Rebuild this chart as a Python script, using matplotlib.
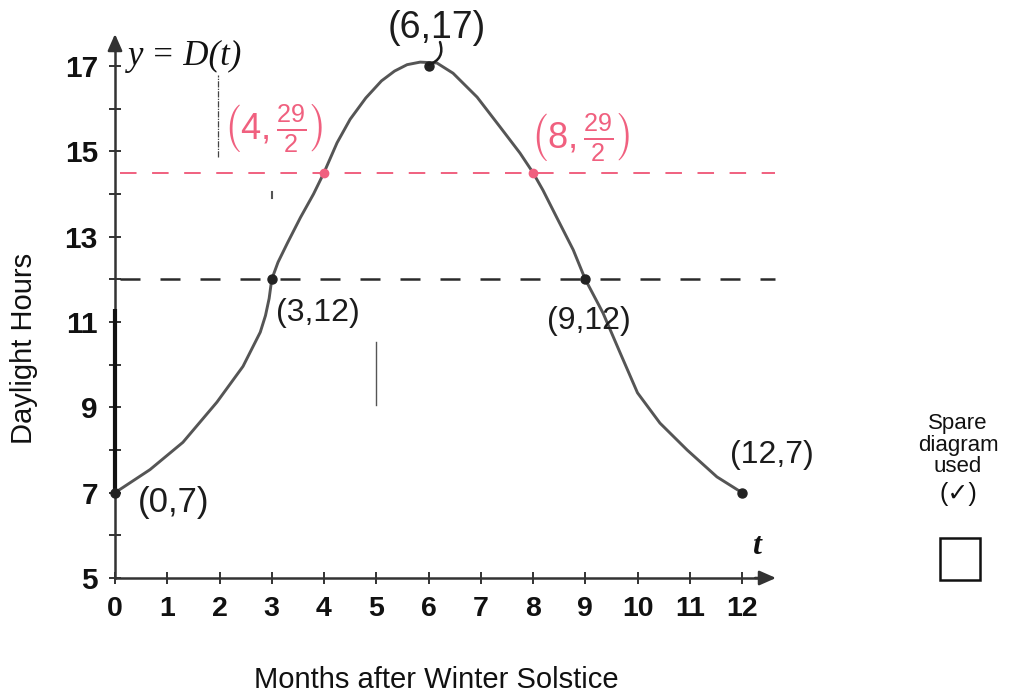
import matplotlib
matplotlib.use("Agg")
import matplotlib.pyplot as plt
from matplotlib.patches import Rectangle

plt.rcParams["font.family"] = ["Liberation Sans", "DejaVu Sans"]
plt.rcParams["mathtext.fontset"] = "custom"
plt.rcParams["mathtext.rm"] = "Liberation Sans"
plt.rcParams["mathtext.it"] = "Liberation Sans:italic"

# axis values
months = list(range(13))
hour_ticks = [5, 7, 9, 11, 13, 15, 17]
hour_minor = [6, 8, 10, 12, 14, 16]

# hand-drawn daylight curve D(t)
curve_t = [0, 0.15, 0.67, 1.3, 1.95, 2.45, 2.78, 2.88, 2.95, 3.0, 3.12, 3.3,
           3.55, 3.8, 4.0, 4.25, 4.5, 4.8, 5.1, 5.35, 5.59, 5.84, 6.0, 6.16,
           6.47, 6.93, 7.37, 7.75, 8.0, 8.19, 8.45, 8.77, 9.0, 9.34, 9.67,
           10.0, 10.43, 10.95, 11.52, 12.0]
curve_h = [7.0, 7.12, 7.54, 8.18, 9.12, 9.96, 10.76, 11.15, 11.55, 12.0, 12.4,
           12.85, 13.45, 14.0, 14.5, 15.2, 15.75, 16.25, 16.65, 16.88, 17.03,
           17.09, 17.08, 17.07, 16.83, 16.27, 15.57, 14.96, 14.5, 14.09, 13.46,
           12.69, 12.0, 11.21, 10.27, 9.34, 8.63, 8.0, 7.37, 7.0]

# marked points
key_t = [0, 3, 6, 9, 12]
key_h = [7, 12, 17, 12, 7]
key_text = ["(0,7)", "(3,12)", "(6,17)", "(9,12)", "(12,7)"]
half_t = [4, 8]
half_h = [14.5, 14.5]
half_text = [r"$\left(4,\frac{29}{2}\right)$", r"$\left(8,\frac{29}{2}\right)$"]
mid_level = 12
half_level = 14.5

ink = "#1c1c1c"
axis_col = "#333333"
pink = "#f0607f"

fig = plt.figure(figsize=(10.1, 6.94), dpi=100)
ax = fig.add_axes([115 / 1010, 116 / 694, 661 / 1010, 544 / 694])
x_end = 661 / 52.25
y_end = 5 + 544 / 42.67
ax.set_xlim(0, x_end)
ax.set_ylim(5, y_end)
for s in ax.spines.values():
    s.set_visible(False)

# axes lines with arrow heads
ax.plot([0, x_end - 0.3], [5, 5], color=axis_col, lw=1.8, clip_on=False)
ax.plot([0, 0], [5, y_end - 0.3], color=axis_col, lw=1.8, clip_on=False)
ax.plot([0, 0], [7, 11.3], color="#111111", lw=3.0, solid_capstyle="butt",
        clip_on=False)
head = dict(arrowstyle="-|>,head_length=0.5,head_width=0.22", lw=1.8,
            color=axis_col, shrinkA=0, shrinkB=0, mutation_scale=20)
ax.annotate("", xy=(x_end, 5), xytext=(x_end - 0.4, 5), arrowprops=head,
            annotation_clip=False)
ax.annotate("", xy=(0, y_end), xytext=(0, y_end - 0.4), arrowprops=head,
            annotation_clip=False)

ax.set_xticks(months)
ax.set_yticks(hour_ticks)
ax.set_yticks(hour_minor, minor=True)
ax.tick_params(axis="both", which="both", direction="inout", length=8.6,
               width=1.4, color=axis_col)
ax.tick_params(axis="x", pad=9, labelsize=20.5)
ax.tick_params(axis="y", pad=8, labelsize=21.5)
for lab in ax.get_xticklabels() + ax.get_yticklabels():
    lab.set_fontweight("bold")
    lab.set_color("#111111")

# reference levels
ax.plot([0.1, 12.63], [mid_level, mid_level], color="#2a2a2a", lw=1.8,
        ls=(0, (8, 8)), clip_on=False)
ax.plot([0.1, 12.63], [half_level, half_level], color=pink, lw=1.4,
        ls=(0, (8.5, 8)), clip_on=False)

# curve and points
ax.plot(curve_t, curve_h, color="#555555", lw=2.1, solid_joinstyle="round",
        solid_capstyle="round", clip_on=False)
ax.plot(key_t, key_h, "o", color="#222222", ms=6.5, clip_on=False)
ax.plot(half_t, half_h, "o", color=pink, ms=6, clip_on=False)

# stray pen marks
ax.plot([1.97, 1.97], [14.87, 16.79], color="#444444", lw=0.9,
        ls=(0, (5, 1, 1, 1)))
ax.plot([5.0, 5.0], [9.05, 10.53], color="#555555", lw=1.0)
ax.plot([3.0, 3.0], [13.9, 14.05], color="#555555", lw=1.5)

# hand-written labels
offsets = [(1.13, -0.22), (0.89, -0.79), (0.16, 0.89), (0.07, -0.98),
           (0.57, 0.88)]
sizes = [25, 23, 27, 23, 23]
for t, h, txt, (dx, dy), fs in zip(key_t, key_h, key_text, offsets, sizes):
    ax.text(t + dx, h + dy, txt, fontsize=fs, color=ink, ha="center",
            va="center")
ax.annotate("", xy=(6.0, 17.03), xytext=(6.22, 17.56),
            arrowprops=dict(arrowstyle="-", color=ink, lw=1.8,
                            connectionstyle="arc3,rad=-0.5", shrinkA=0,
                            shrinkB=0))
half_off = [(-0.98, 1.05), (0.9, 0.84)]
for t, h, txt, (dx, dy) in zip(half_t, half_h, half_text, half_off):
    ax.text(t + dx, h + dy, txt, fontsize=26, color=pink, ha="center",
            va="center")

# printed function and variable labels
ax.text(0.25, 17.23, "y = D(t)", fontsize=25, family="Liberation Serif",
        style="italic", color="#111111", ha="left", va="center")
ax.text(12.27, 5.73, "t", fontsize=23, family="Liberation Serif",
        style="italic", weight="bold", color="#111111", ha="center",
        va="center")

fig.text(24 / 1010, 1 - 348 / 694, "Daylight Hours", rotation=90,
         ha="center", va="center", fontsize=21, color="#111111")
fig.text(436 / 1010, 1 - 688 / 694, "Months after Winter Solstice",
         ha="center", va="baseline", fontsize=21, color="#111111")

# spare diagram box
for y, txt, fs in [(424, "Spare", 16), (446, "diagram", 16), (467, "used", 16),
                   (494, "(✓)", 18)]:
    fig.text(958 / 1010, 1 - y / 694, txt, ha="center", va="center",
             fontsize=fs, color="#111111",
             family=["Liberation Sans", "DejaVu Sans"])
fig.add_artist(Rectangle((940 / 1010, 1 - 580 / 694), 40 / 1010, 42 / 694,
                         transform=fig.transFigure, fill=False,
                         edgecolor="#111111", lw=1.8))

fig.savefig("out.png", dpi=100, facecolor="white")
